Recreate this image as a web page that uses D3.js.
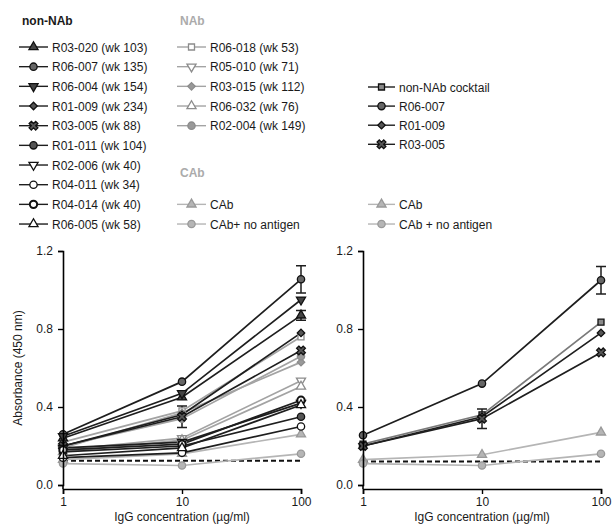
<!DOCTYPE html>
<html>
<head>
<meta charset="utf-8">
<script src="https://cdn.jsdelivr.net/npm/d3@7"></script>
<style>
  body { margin: 0; background: #fff; }
  text { font-family: "Liberation Sans", Arial, sans-serif; fill: #1a1a1a; }
</style>
</head>
<body>
<div id="chart"></div>
<script>
var svgWidth = 613;
var svgHeight = 527;

// IgG concentrations (µg/ml)
var doses = [1, 10, 100];

// left panel, non-NAb
var r03_020 = [0.24, 0.45, 0.87];
var r06_007 = [0.26, 0.53, 1.055];
var r06_004 = [0.25, 0.47, 0.95];
var r01_009 = [0.2, 0.36, 0.78];
var r03_005 = [0.2, 0.35, 0.69];
var r01_011 = [0.17, 0.2, 0.35];
var r02_006 = [0.19, 0.22, 0.42];
var r04_011 = [0.14, 0.165, 0.3];
var r04_014 = [0.18, 0.21, 0.435];
var r06_005 = [0.15, 0.19, 0.41];
// left panel, NAb
var r06_018 = [0.22, 0.38, 0.76];
var r05_010 = [0.18, 0.24, 0.535];
var r03_015 = [0.19, 0.37, 0.63];
var r06_032 = [0.17, 0.23, 0.505];
var r02_004 = [0.2, 0.34, 0.66];
// CAb
var cab = [0.13, 0.16, 0.26];
var cabNoAg = [0.11, 0.1, 0.16];
var background = [0.125, 0.125, 0.125];

// right panel
var cocktail = [0.21, 0.36, 0.835];
var r06_007b = [0.255, 0.52, 1.05];
var r01_009b = [0.2, 0.35, 0.78];
var r03_005b = [0.2, 0.34, 0.68];
var cabB = [0.13, 0.155, 0.27];
var cabNoAgB = [0.11, 0.1, 0.16];
var backgroundB = [0.12, 0.12, 0.12];

// error bars: [series values, dose index, +/-]
var errLeft = [[r06_007, 2, 0.07], [r03_020, 2, 0.025], [r03_005, 1, 0.055]];
var errRight = [[r06_007b, 2, 0.07], [r03_005b, 1, 0.05]];

var yTicks = [0, 0.4, 0.8, 1.2];

var dark = "#1e1e1e", gray = "#a3a3a3", lgray = "#b5b5b5";

// style table
var leftSeries = [
  {name: "R03-020 (wk 103)", v: r03_020, sym: "triUp", line: dark, fill: "#444"},
  {name: "R06-007 (wk 135)", v: r06_007, sym: "circle", line: dark, fill: "#666"},
  {name: "R06-004 (wk 154)", v: r06_004, sym: "triDown", line: dark, fill: "#444"},
  {name: "R01-009 (wk 234)", v: r01_009, sym: "diamond", line: dark, fill: "#555"},
  {name: "R03-005 (wk 88)", v: r03_005, sym: "x", line: dark, fill: "#555"},
  {name: "R01-011 (wk 104)", v: r01_011, sym: "circle", line: dark, fill: "#555"},
  {name: "R02-006 (wk 40)", v: r02_006, sym: "triDown", line: dark, fill: "#fff"},
  {name: "R04-011 (wk 34)", v: r04_011, sym: "circle", line: dark, fill: "#fff"},
  {name: "R04-014 (wk 40)", v: r04_014, sym: "circle", line: dark, fill: "#fff", thick: true},
  {name: "R06-005 (wk 58)", v: r06_005, sym: "triUp", line: dark, fill: "#fff"}
];
var nabSeries = [
  {name: "R06-018 (wk 53)", v: r06_018, sym: "square", line: gray, fill: "#fff"},
  {name: "R05-010 (wk 71)", v: r05_010, sym: "triDown", line: gray, fill: "#fff"},
  {name: "R03-015 (wk 112)", v: r03_015, sym: "diamond", line: gray, fill: "#999"},
  {name: "R06-032 (wk 76)", v: r06_032, sym: "triUp", line: gray, fill: "#fff"},
  {name: "R02-004 (wk 149)", v: r02_004, sym: "circle", line: gray, fill: "#999"}
];
var cabSeries = [
  {name: "CAb", v: cab, sym: "triUp", line: lgray, fill: lgray},
  {name: "CAb+ no antigen", v: cabNoAg, sym: "circle", line: lgray, fill: lgray}
];
var rightSeries = [
  {name: "non-NAb cocktail", v: cocktail, sym: "square", line: "#7a7a7a", fill: "#8a8a8a", legLine: dark},
  {name: "R06-007", v: r06_007b, sym: "circle", line: dark, fill: "#666"},
  {name: "R01-009", v: r01_009b, sym: "diamond", line: dark, fill: "#555"},
  {name: "R03-005", v: r03_005b, sym: "x", line: dark, fill: "#555"}
];
var rightCab = [
  {name: "CAb", v: cabB, sym: "triUp", line: lgray, fill: lgray},
  {name: "CAb + no antigen", v: cabNoAgB, sym: "circle", line: lgray, fill: lgray}
];

var svg = d3.select("#chart").append("svg")
  .attr("width", svgWidth)
  .attr("height", svgHeight);

function symPath(type) {
  var s;
  if (type === "triUp" || type === "triDown") s = d3.symbol(d3.symbolTriangle, 36);
  else if (type === "circle") s = d3.symbol(d3.symbolCircle, 42);
  else if (type === "square") s = d3.symbol(d3.symbolSquare, 36);
  else if (type === "diamond") s = d3.symbol(d3.symbolSquare, 28);
  else s = d3.symbol(d3.symbolCross, 48);
  return s();
}
function symRot(type) {
  if (type === "triDown") return 180;
  if (type === "diamond" || type === "x") return 45;
  return 0;
}

function markerStroke(s) {
  return s.line === lgray ? "#999" : (s.line === gray ? "#8c8c8c" : "#111");
}

function drawMarker(g, s, x, y) {
  g.append("path")
    .attr("d", symPath(s.sym))
    .attr("transform", "translate(" + x + "," + y + ") rotate(" + symRot(s.sym) + ")")
    .attr("fill", s.fill)
    .attr("stroke", markerStroke(s))
    .attr("stroke-width", s.thick ? 2 : 1.3);
}

function panel(x0, series, errs, bg) {
  var x = d3.scaleLog().domain([1, 100]).range([x0, x0 + 238]);
  var y = d3.scaleLinear().domain([0, 1.2]).range([485, 251]);
  var g = svg.append("g");

  var line = d3.line()
    .x(function(d, i) { return x(doses[i]); })
    .y(function(d) { return y(d); });

  // background dashed line
  g.append("path")
    .attr("d", line(bg))
    .attr("fill", "none")
    .attr("stroke", "#111")
    .attr("stroke-width", 2)
    .attr("stroke-dasharray", "5,3");

  series.forEach(function(s) {
    g.append("path")
      .attr("d", line(s.v))
      .attr("fill", "none")
      .attr("stroke", s.line)
      .attr("stroke-width", 1.7);
  });

  errs.forEach(function(e) {
    var cx = x(doses[e[1]]), v = e[0][e[1]];
    g.append("path")
      .attr("d", "M" + cx + "," + y(v - e[2]) + "V" + y(v + e[2]) +
        "M" + (cx - 5) + "," + y(v + e[2]) + "H" + (cx + 5) +
        "M" + (cx - 5) + "," + y(v - e[2]) + "H" + (cx + 5))
      .attr("fill", "none")
      .attr("stroke", dark)
      .attr("stroke-width", 1.5);
  });

  series.forEach(function(s) {
    s.v.forEach(function(d, i) {
      drawMarker(g, s, x(doses[i]), y(d));
    });
  });

  // axes
  var yAxis = d3.axisLeft(y).tickValues(yTicks).tickFormat(d3.format(".1f")).tickSizeOuter(0).tickSize(5).tickPadding(5);
  var ga = g.append("g").attr("transform", "translate(" + x0 + ",0)").call(yAxis);
  ga.append("line").attr("y1", 485).attr("y2", 489).attr("stroke", "#000").attr("stroke-width", 1.6);

  var xAxis = d3.axisBottom(x).tickValues(doses).tickFormat(d3.format("d")).tickSizeOuter(0).tickSize(5).tickPadding(3);
  var gx = g.append("g").attr("transform", "translate(0,489)").call(xAxis);

  [ga, gx].forEach(function(a) {
    a.select(".domain").attr("stroke", "#000").attr("stroke-width", 1.6);
    a.selectAll(".tick line").attr("stroke", "#000").attr("stroke-width", 1.4);
    a.selectAll(".tick text").attr("font-size", "12px").attr("fill", "#1a1a1a")
      .attr("font-family", "'Liberation Sans', Arial, sans-serif");
  });

  g.append("text")
    .attr("x", x0 + 119)
    .attr("y", 521)
    .attr("text-anchor", "middle")
    .attr("font-size", "12px")
    .text("IgG concentration (µg/ml)");
}

panel(63, nabSeries.concat(cabSeries).concat(leftSeries), errLeft, background);
panel(363, rightCab.concat(rightSeries), errRight, backgroundB);

svg.append("text")
  .attr("transform", "translate(22,368) rotate(-90)")
  .attr("text-anchor", "middle")
  .attr("font-size", "12px")
  .text("Absorbance (450 nm)");

// legends
function legendItem(s, lx, ly, len, lineColor) {
  var g = svg.append("g");
  g.append("line")
    .attr("x1", lx).attr("x2", lx + len)
    .attr("y1", ly).attr("y2", ly)
    .attr("stroke", lineColor || s.line)
    .attr("stroke-width", 1.4);
  drawMarker(g, s, lx + len / 2, ly);
  g.append("text")
    .attr("x", lx + len + 4)
    .attr("y", ly + 4.5)
    .attr("font-size", "12px")
    .text(s.name);
}

function header(txt, hx, hy, color) {
  svg.append("text")
    .attr("x", hx).attr("y", hy + 4.5)
    .attr("font-size", "12px")
    .attr("font-weight", "bold")
    .style("fill", color)
    .text(txt);
}

var rowY = function(i) { return 47 + i * 19.67; };

header("non-NAb", 22, 20, "#1a1a1a");
leftSeries.forEach(function(s, i) { legendItem(s, 19, rowY(i), 29); });

header("NAb", 180, 20, "#ababab");
nabSeries.forEach(function(s, i) { legendItem(s, 177, rowY(i), 29); });

header("CAb", 180, 172, "#ababab");
cabSeries.forEach(function(s, i) { legendItem(s, 177, rowY(8 + i), 29); });

rightSeries.forEach(function(s, i) { legendItem(s, 368, 87 + i * 19.1, 27, s.legLine); });
rightCab.forEach(function(s, i) { legendItem(s, 368, rowY(8 + i), 27); });
</script>
</body>
</html>
